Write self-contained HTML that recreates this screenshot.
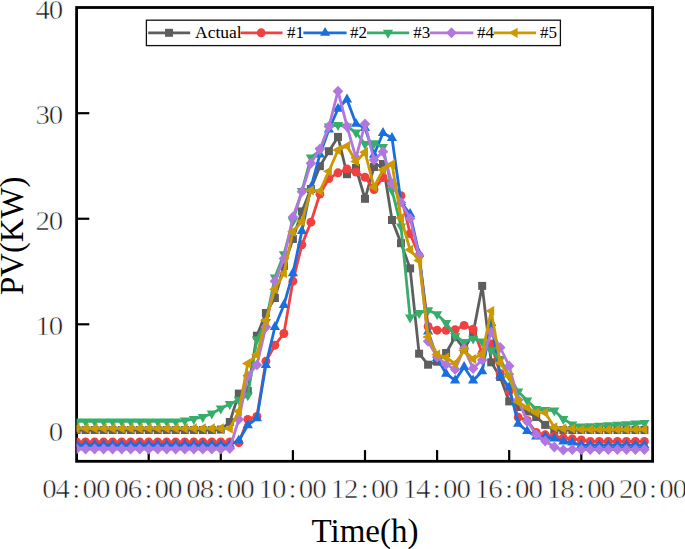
<!DOCTYPE html>
<html><head><meta charset="utf-8"><title>chart</title><style>html,body{margin:0;padding:0;background:#fff}body{width:685px;height:549px;position:relative;overflow:hidden;font-family:"Liberation Serif",serif}</style></head><body>
<svg width="685" height="549" viewBox="0 0 685 549" style="position:absolute;left:0;top:0">
<rect width="685" height="549" fill="#fff"/>
<rect x="76.6" y="7.5" width="576.0" height="453.8" fill="none" stroke="#000" stroke-width="2.8"/>
<line x1="76.6" x2="89.3" y1="113.2" y2="113.2" stroke="#000" stroke-width="2.2"/>
<line x1="76.6" x2="89.3" y1="218.75" y2="218.75" stroke="#000" stroke-width="2.2"/>
<line x1="76.6" x2="89.3" y1="324.3" y2="324.3" stroke="#000" stroke-width="2.2"/>
<line x1="76.6" x2="89.3" y1="429.85" y2="429.85" stroke="#000" stroke-width="2.2"/>
<line x1="148.7" x2="148.7" y1="461.3" y2="450.1" stroke="#000" stroke-width="2.2"/>
<line x1="220.8" x2="220.8" y1="461.3" y2="450.1" stroke="#000" stroke-width="2.2"/>
<line x1="292.9" x2="292.9" y1="461.3" y2="450.1" stroke="#000" stroke-width="2.2"/>
<line x1="365.0" x2="365.0" y1="461.3" y2="450.1" stroke="#000" stroke-width="2.2"/>
<line x1="437.1" x2="437.1" y1="461.3" y2="450.1" stroke="#000" stroke-width="2.2"/>
<line x1="509.2" x2="509.2" y1="461.3" y2="450.1" stroke="#000" stroke-width="2.2"/>
<line x1="581.3" x2="581.3" y1="461.3" y2="450.1" stroke="#000" stroke-width="2.2"/>
<clipPath id="pc"><rect x="76.6" y="7.5" width="576.0" height="453.8"/></clipPath>
<g clip-path="url(#pc)">
<polyline points="76.6,430.0 85.6,430.0 94.6,430.0 103.6,430.0 112.6,430.0 121.7,430.0 130.7,430.0 139.7,430.0 148.7,430.0 157.7,430.0 166.7,430.0 175.7,430.0 184.8,430.0 193.8,430.0 202.8,430.0 211.8,430.0 220.8,429.6 229.8,422.0 238.8,393.6 247.8,391.0 256.9,335.7 265.9,313.0 274.9,298.0 283.9,266.0 292.9,239.0 301.9,211.4 310.9,189.0 319.9,166.2 328.9,151.2 338.0,136.9 347.0,174.2 356.0,168.0 365.0,198.8 374.0,167.0 383.0,164.0 392.0,220.0 401.0,243.2 410.1,268.4 419.1,353.7 428.1,364.7 437.1,361.7 446.1,353.0 455.1,337.0 464.1,349.0 473.1,333.6 482.2,285.9 491.2,362.3 500.2,377.0 509.2,401.4 518.2,407.0 527.2,411.5 536.2,417.0 545.2,424.9 554.3,430.0 563.3,430.0 572.3,430.0 581.3,430.0 590.3,430.0 599.3,430.0 608.3,430.0 617.4,430.0 626.4,430.0 635.4,430.0 644.4,430.0" fill="none" stroke="#5e5e5e" stroke-width="2.8" stroke-linejoin="round"/>
<g><rect x="72.6" y="426.0" width="8.0" height="8.0" fill="#5e5e5e"/><rect x="81.6" y="426.0" width="8.0" height="8.0" fill="#5e5e5e"/><rect x="90.6" y="426.0" width="8.0" height="8.0" fill="#5e5e5e"/><rect x="99.6" y="426.0" width="8.0" height="8.0" fill="#5e5e5e"/><rect x="108.6" y="426.0" width="8.0" height="8.0" fill="#5e5e5e"/><rect x="117.7" y="426.0" width="8.0" height="8.0" fill="#5e5e5e"/><rect x="126.7" y="426.0" width="8.0" height="8.0" fill="#5e5e5e"/><rect x="135.7" y="426.0" width="8.0" height="8.0" fill="#5e5e5e"/><rect x="144.7" y="426.0" width="8.0" height="8.0" fill="#5e5e5e"/><rect x="153.7" y="426.0" width="8.0" height="8.0" fill="#5e5e5e"/><rect x="162.7" y="426.0" width="8.0" height="8.0" fill="#5e5e5e"/><rect x="171.7" y="426.0" width="8.0" height="8.0" fill="#5e5e5e"/><rect x="180.8" y="426.0" width="8.0" height="8.0" fill="#5e5e5e"/><rect x="189.8" y="426.0" width="8.0" height="8.0" fill="#5e5e5e"/><rect x="198.8" y="426.0" width="8.0" height="8.0" fill="#5e5e5e"/><rect x="207.8" y="426.0" width="8.0" height="8.0" fill="#5e5e5e"/><rect x="216.8" y="425.6" width="8.0" height="8.0" fill="#5e5e5e"/><rect x="225.8" y="418.0" width="8.0" height="8.0" fill="#5e5e5e"/><rect x="234.8" y="389.6" width="8.0" height="8.0" fill="#5e5e5e"/><rect x="243.8" y="387.0" width="8.0" height="8.0" fill="#5e5e5e"/><rect x="252.9" y="331.7" width="8.0" height="8.0" fill="#5e5e5e"/><rect x="261.9" y="309.0" width="8.0" height="8.0" fill="#5e5e5e"/><rect x="270.9" y="294.0" width="8.0" height="8.0" fill="#5e5e5e"/><rect x="279.9" y="262.0" width="8.0" height="8.0" fill="#5e5e5e"/><rect x="288.9" y="235.0" width="8.0" height="8.0" fill="#5e5e5e"/><rect x="297.9" y="207.4" width="8.0" height="8.0" fill="#5e5e5e"/><rect x="306.9" y="185.0" width="8.0" height="8.0" fill="#5e5e5e"/><rect x="315.9" y="162.2" width="8.0" height="8.0" fill="#5e5e5e"/><rect x="324.9" y="147.2" width="8.0" height="8.0" fill="#5e5e5e"/><rect x="334.0" y="132.9" width="8.0" height="8.0" fill="#5e5e5e"/><rect x="343.0" y="170.2" width="8.0" height="8.0" fill="#5e5e5e"/><rect x="352.0" y="164.0" width="8.0" height="8.0" fill="#5e5e5e"/><rect x="361.0" y="194.8" width="8.0" height="8.0" fill="#5e5e5e"/><rect x="370.0" y="163.0" width="8.0" height="8.0" fill="#5e5e5e"/><rect x="379.0" y="160.0" width="8.0" height="8.0" fill="#5e5e5e"/><rect x="388.0" y="216.0" width="8.0" height="8.0" fill="#5e5e5e"/><rect x="397.0" y="239.2" width="8.0" height="8.0" fill="#5e5e5e"/><rect x="406.1" y="264.4" width="8.0" height="8.0" fill="#5e5e5e"/><rect x="415.1" y="349.7" width="8.0" height="8.0" fill="#5e5e5e"/><rect x="424.1" y="360.7" width="8.0" height="8.0" fill="#5e5e5e"/><rect x="433.1" y="357.7" width="8.0" height="8.0" fill="#5e5e5e"/><rect x="442.1" y="349.0" width="8.0" height="8.0" fill="#5e5e5e"/><rect x="451.1" y="333.0" width="8.0" height="8.0" fill="#5e5e5e"/><rect x="460.1" y="345.0" width="8.0" height="8.0" fill="#5e5e5e"/><rect x="469.1" y="329.6" width="8.0" height="8.0" fill="#5e5e5e"/><rect x="478.2" y="281.9" width="8.0" height="8.0" fill="#5e5e5e"/><rect x="487.2" y="358.3" width="8.0" height="8.0" fill="#5e5e5e"/><rect x="496.2" y="373.0" width="8.0" height="8.0" fill="#5e5e5e"/><rect x="505.2" y="397.4" width="8.0" height="8.0" fill="#5e5e5e"/><rect x="514.2" y="403.0" width="8.0" height="8.0" fill="#5e5e5e"/><rect x="523.2" y="407.5" width="8.0" height="8.0" fill="#5e5e5e"/><rect x="532.2" y="413.0" width="8.0" height="8.0" fill="#5e5e5e"/><rect x="541.2" y="420.9" width="8.0" height="8.0" fill="#5e5e5e"/><rect x="550.3" y="426.0" width="8.0" height="8.0" fill="#5e5e5e"/><rect x="559.3" y="426.0" width="8.0" height="8.0" fill="#5e5e5e"/><rect x="568.3" y="426.0" width="8.0" height="8.0" fill="#5e5e5e"/><rect x="577.3" y="426.0" width="8.0" height="8.0" fill="#5e5e5e"/><rect x="586.3" y="426.0" width="8.0" height="8.0" fill="#5e5e5e"/><rect x="595.3" y="426.0" width="8.0" height="8.0" fill="#5e5e5e"/><rect x="604.3" y="426.0" width="8.0" height="8.0" fill="#5e5e5e"/><rect x="613.4" y="426.0" width="8.0" height="8.0" fill="#5e5e5e"/><rect x="622.4" y="426.0" width="8.0" height="8.0" fill="#5e5e5e"/><rect x="631.4" y="426.0" width="8.0" height="8.0" fill="#5e5e5e"/><rect x="640.4" y="426.0" width="8.0" height="8.0" fill="#5e5e5e"/></g>
<polyline points="76.6,442.0 85.6,442.0 94.6,442.0 103.6,442.0 112.6,442.0 121.7,442.0 130.7,442.0 139.7,442.0 148.7,442.0 157.7,442.0 166.7,442.0 175.7,442.0 184.8,442.0 193.8,442.0 202.8,442.0 211.8,442.0 220.8,442.0 229.8,442.0 238.8,442.7 247.8,419.4 256.9,416.4 265.9,361.2 274.9,345.2 283.9,333.5 292.9,281.2 301.9,244.8 310.9,222.2 319.9,194.0 328.9,178.6 338.0,172.8 347.0,169.0 356.0,172.0 365.0,177.2 374.0,189.5 383.0,177.5 392.0,184.0 401.0,195.7 410.1,233.7 419.1,255.6 428.1,326.5 437.1,330.2 446.1,330.3 455.1,329.7 464.1,325.4 473.1,329.2 482.2,353.0 491.2,344.0 500.2,373.5 509.2,391.0 518.2,417.3 527.2,420.5 536.2,432.5 545.2,434.8 554.3,436.5 563.3,438.0 572.3,438.8 581.3,440.0 590.3,441.5 599.3,441.5 608.3,441.5 617.4,441.5 626.4,441.5 635.4,441.5 644.4,441.5" fill="none" stroke="#F14040" stroke-width="2.8" stroke-linejoin="round"/>
<g><circle cx="76.6" cy="442.0" r="4.45" fill="#F14040"/><circle cx="85.6" cy="442.0" r="4.45" fill="#F14040"/><circle cx="94.6" cy="442.0" r="4.45" fill="#F14040"/><circle cx="103.6" cy="442.0" r="4.45" fill="#F14040"/><circle cx="112.6" cy="442.0" r="4.45" fill="#F14040"/><circle cx="121.7" cy="442.0" r="4.45" fill="#F14040"/><circle cx="130.7" cy="442.0" r="4.45" fill="#F14040"/><circle cx="139.7" cy="442.0" r="4.45" fill="#F14040"/><circle cx="148.7" cy="442.0" r="4.45" fill="#F14040"/><circle cx="157.7" cy="442.0" r="4.45" fill="#F14040"/><circle cx="166.7" cy="442.0" r="4.45" fill="#F14040"/><circle cx="175.7" cy="442.0" r="4.45" fill="#F14040"/><circle cx="184.8" cy="442.0" r="4.45" fill="#F14040"/><circle cx="193.8" cy="442.0" r="4.45" fill="#F14040"/><circle cx="202.8" cy="442.0" r="4.45" fill="#F14040"/><circle cx="211.8" cy="442.0" r="4.45" fill="#F14040"/><circle cx="220.8" cy="442.0" r="4.45" fill="#F14040"/><circle cx="229.8" cy="442.0" r="4.45" fill="#F14040"/><circle cx="238.8" cy="442.7" r="4.45" fill="#F14040"/><circle cx="247.8" cy="419.4" r="4.45" fill="#F14040"/><circle cx="256.9" cy="416.4" r="4.45" fill="#F14040"/><circle cx="265.9" cy="361.2" r="4.45" fill="#F14040"/><circle cx="274.9" cy="345.2" r="4.45" fill="#F14040"/><circle cx="283.9" cy="333.5" r="4.45" fill="#F14040"/><circle cx="292.9" cy="281.2" r="4.45" fill="#F14040"/><circle cx="301.9" cy="244.8" r="4.45" fill="#F14040"/><circle cx="310.9" cy="222.2" r="4.45" fill="#F14040"/><circle cx="319.9" cy="194.0" r="4.45" fill="#F14040"/><circle cx="328.9" cy="178.6" r="4.45" fill="#F14040"/><circle cx="338.0" cy="172.8" r="4.45" fill="#F14040"/><circle cx="347.0" cy="169.0" r="4.45" fill="#F14040"/><circle cx="356.0" cy="172.0" r="4.45" fill="#F14040"/><circle cx="365.0" cy="177.2" r="4.45" fill="#F14040"/><circle cx="374.0" cy="189.5" r="4.45" fill="#F14040"/><circle cx="383.0" cy="177.5" r="4.45" fill="#F14040"/><circle cx="392.0" cy="184.0" r="4.45" fill="#F14040"/><circle cx="401.0" cy="195.7" r="4.45" fill="#F14040"/><circle cx="410.1" cy="233.7" r="4.45" fill="#F14040"/><circle cx="419.1" cy="255.6" r="4.45" fill="#F14040"/><circle cx="428.1" cy="326.5" r="4.45" fill="#F14040"/><circle cx="437.1" cy="330.2" r="4.45" fill="#F14040"/><circle cx="446.1" cy="330.3" r="4.45" fill="#F14040"/><circle cx="455.1" cy="329.7" r="4.45" fill="#F14040"/><circle cx="464.1" cy="325.4" r="4.45" fill="#F14040"/><circle cx="473.1" cy="329.2" r="4.45" fill="#F14040"/><circle cx="482.2" cy="353.0" r="4.45" fill="#F14040"/><circle cx="491.2" cy="344.0" r="4.45" fill="#F14040"/><circle cx="500.2" cy="373.5" r="4.45" fill="#F14040"/><circle cx="509.2" cy="391.0" r="4.45" fill="#F14040"/><circle cx="518.2" cy="417.3" r="4.45" fill="#F14040"/><circle cx="527.2" cy="420.5" r="4.45" fill="#F14040"/><circle cx="536.2" cy="432.5" r="4.45" fill="#F14040"/><circle cx="545.2" cy="434.8" r="4.45" fill="#F14040"/><circle cx="554.3" cy="436.5" r="4.45" fill="#F14040"/><circle cx="563.3" cy="438.0" r="4.45" fill="#F14040"/><circle cx="572.3" cy="438.8" r="4.45" fill="#F14040"/><circle cx="581.3" cy="440.0" r="4.45" fill="#F14040"/><circle cx="590.3" cy="441.5" r="4.45" fill="#F14040"/><circle cx="599.3" cy="441.5" r="4.45" fill="#F14040"/><circle cx="608.3" cy="441.5" r="4.45" fill="#F14040"/><circle cx="617.4" cy="441.5" r="4.45" fill="#F14040"/><circle cx="626.4" cy="441.5" r="4.45" fill="#F14040"/><circle cx="635.4" cy="441.5" r="4.45" fill="#F14040"/><circle cx="644.4" cy="441.5" r="4.45" fill="#F14040"/></g>
<polyline points="76.6,444.6 85.6,444.6 94.6,444.6 103.6,444.6 112.6,444.6 121.7,444.6 130.7,444.6 139.7,444.6 148.7,444.6 157.7,444.6 166.7,444.6 175.7,444.6 184.8,444.6 193.8,444.6 202.8,444.6 211.8,444.6 220.8,444.6 229.8,444.6 238.8,440.5 247.8,425.2 256.9,418.2 265.9,364.9 274.9,327.0 283.9,305.0 292.9,273.2 301.9,231.0 310.9,187.4 319.9,154.5 328.9,129.6 338.0,108.7 347.0,99.4 356.0,123.8 365.0,128.0 374.0,154.7 383.0,133.0 392.0,138.0 401.0,202.0 410.1,214.0 419.1,254.0 428.1,331.6 437.1,358.0 446.1,373.7 455.1,380.4 464.1,366.9 473.1,380.5 482.2,371.3 491.2,323.0 500.2,375.5 509.2,387.3 518.2,423.8 527.2,431.0 536.2,436.5 545.2,437.0 554.3,438.5 563.3,441.5 572.3,442.5 581.3,445.2 590.3,445.2 599.3,445.2 608.3,445.2 617.4,445.2 626.4,445.2 635.4,445.2 644.4,445.2" fill="none" stroke="#1A6FDF" stroke-width="2.8" stroke-linejoin="round"/>
<g><path d="M71.5 447.6L81.7 447.6L76.6 438.7Z" fill="#1A6FDF"/><path d="M80.5 447.6L90.7 447.6L85.6 438.7Z" fill="#1A6FDF"/><path d="M89.5 447.6L99.7 447.6L94.6 438.7Z" fill="#1A6FDF"/><path d="M98.5 447.6L108.7 447.6L103.6 438.7Z" fill="#1A6FDF"/><path d="M107.5 447.6L117.7 447.6L112.6 438.7Z" fill="#1A6FDF"/><path d="M116.6 447.6L126.8 447.6L121.7 438.7Z" fill="#1A6FDF"/><path d="M125.6 447.6L135.8 447.6L130.7 438.7Z" fill="#1A6FDF"/><path d="M134.6 447.6L144.8 447.6L139.7 438.7Z" fill="#1A6FDF"/><path d="M143.6 447.6L153.8 447.6L148.7 438.7Z" fill="#1A6FDF"/><path d="M152.6 447.6L162.8 447.6L157.7 438.7Z" fill="#1A6FDF"/><path d="M161.6 447.6L171.8 447.6L166.7 438.7Z" fill="#1A6FDF"/><path d="M170.6 447.6L180.8 447.6L175.7 438.7Z" fill="#1A6FDF"/><path d="M179.7 447.6L189.8 447.6L184.8 438.7Z" fill="#1A6FDF"/><path d="M188.7 447.6L198.9 447.6L193.8 438.7Z" fill="#1A6FDF"/><path d="M197.7 447.6L207.9 447.6L202.8 438.7Z" fill="#1A6FDF"/><path d="M206.7 447.6L216.9 447.6L211.8 438.7Z" fill="#1A6FDF"/><path d="M215.7 447.6L225.9 447.6L220.8 438.7Z" fill="#1A6FDF"/><path d="M224.7 447.6L234.9 447.6L229.8 438.7Z" fill="#1A6FDF"/><path d="M233.7 443.5L243.9 443.5L238.8 434.6Z" fill="#1A6FDF"/><path d="M242.7 428.2L252.9 428.2L247.8 419.3Z" fill="#1A6FDF"/><path d="M251.8 421.2L262.0 421.2L256.9 412.3Z" fill="#1A6FDF"/><path d="M260.8 367.9L271.0 367.9L265.9 359.0Z" fill="#1A6FDF"/><path d="M269.8 330.0L280.0 330.0L274.9 321.1Z" fill="#1A6FDF"/><path d="M278.8 308.0L289.0 308.0L283.9 299.1Z" fill="#1A6FDF"/><path d="M287.8 276.2L298.0 276.2L292.9 267.3Z" fill="#1A6FDF"/><path d="M296.8 234.0L307.0 234.0L301.9 225.1Z" fill="#1A6FDF"/><path d="M305.8 190.4L316.0 190.4L310.9 181.5Z" fill="#1A6FDF"/><path d="M314.8 157.5L325.0 157.5L319.9 148.6Z" fill="#1A6FDF"/><path d="M323.8 132.6L334.0 132.6L328.9 123.7Z" fill="#1A6FDF"/><path d="M332.9 111.7L343.1 111.7L338.0 102.8Z" fill="#1A6FDF"/><path d="M341.9 102.4L352.1 102.4L347.0 93.5Z" fill="#1A6FDF"/><path d="M350.9 126.8L361.1 126.8L356.0 117.9Z" fill="#1A6FDF"/><path d="M359.9 131.0L370.1 131.0L365.0 122.1Z" fill="#1A6FDF"/><path d="M368.9 157.7L379.1 157.7L374.0 148.8Z" fill="#1A6FDF"/><path d="M377.9 136.0L388.1 136.0L383.0 127.1Z" fill="#1A6FDF"/><path d="M386.9 141.0L397.1 141.0L392.0 132.1Z" fill="#1A6FDF"/><path d="M395.9 205.0L406.1 205.0L401.0 196.1Z" fill="#1A6FDF"/><path d="M405.0 217.0L415.2 217.0L410.1 208.1Z" fill="#1A6FDF"/><path d="M414.0 257.0L424.2 257.0L419.1 248.1Z" fill="#1A6FDF"/><path d="M423.0 334.6L433.2 334.6L428.1 325.7Z" fill="#1A6FDF"/><path d="M432.0 361.0L442.2 361.0L437.1 352.1Z" fill="#1A6FDF"/><path d="M441.0 376.7L451.2 376.7L446.1 367.8Z" fill="#1A6FDF"/><path d="M450.0 383.4L460.2 383.4L455.1 374.5Z" fill="#1A6FDF"/><path d="M459.0 369.9L469.2 369.9L464.1 361.0Z" fill="#1A6FDF"/><path d="M468.0 383.5L478.2 383.5L473.1 374.6Z" fill="#1A6FDF"/><path d="M477.1 374.3L487.3 374.3L482.2 365.4Z" fill="#1A6FDF"/><path d="M486.1 326.0L496.3 326.0L491.2 317.1Z" fill="#1A6FDF"/><path d="M495.1 378.5L505.3 378.5L500.2 369.6Z" fill="#1A6FDF"/><path d="M504.1 390.3L514.3 390.3L509.2 381.4Z" fill="#1A6FDF"/><path d="M513.1 426.8L523.3 426.8L518.2 417.9Z" fill="#1A6FDF"/><path d="M522.1 434.0L532.3 434.0L527.2 425.1Z" fill="#1A6FDF"/><path d="M531.1 439.5L541.3 439.5L536.2 430.6Z" fill="#1A6FDF"/><path d="M540.1 440.0L550.4 440.0L545.2 431.1Z" fill="#1A6FDF"/><path d="M549.2 441.5L559.4 441.5L554.3 432.6Z" fill="#1A6FDF"/><path d="M558.2 444.5L568.4 444.5L563.3 435.6Z" fill="#1A6FDF"/><path d="M567.2 445.5L577.4 445.5L572.3 436.6Z" fill="#1A6FDF"/><path d="M576.2 448.2L586.4 448.2L581.3 439.3Z" fill="#1A6FDF"/><path d="M585.2 448.2L595.4 448.2L590.3 439.3Z" fill="#1A6FDF"/><path d="M594.2 448.2L604.4 448.2L599.3 439.3Z" fill="#1A6FDF"/><path d="M603.2 448.2L613.4 448.2L608.3 439.3Z" fill="#1A6FDF"/><path d="M612.2 448.2L622.5 448.2L617.4 439.3Z" fill="#1A6FDF"/><path d="M621.3 448.2L631.5 448.2L626.4 439.3Z" fill="#1A6FDF"/><path d="M630.3 448.2L640.5 448.2L635.4 439.3Z" fill="#1A6FDF"/><path d="M639.3 448.2L649.5 448.2L644.4 439.3Z" fill="#1A6FDF"/></g>
<polyline points="76.6,421.4 85.6,421.4 94.6,421.4 103.6,421.4 112.6,421.4 121.7,421.4 130.7,421.4 139.7,421.4 148.7,421.4 157.7,421.4 166.7,421.4 175.7,421.4 184.8,420.6 193.8,419.0 202.8,417.0 211.8,413.6 220.8,408.5 229.8,404.0 238.8,399.8 247.8,395.4 256.9,339.4 265.9,322.0 274.9,277.6 283.9,254.3 292.9,221.0 301.9,191.0 310.9,157.5 319.9,150.5 328.9,126.5 338.0,125.0 347.0,126.5 356.0,132.5 365.0,144.0 374.0,143.3 383.0,147.0 392.0,190.3 401.0,226.4 410.1,317.5 419.1,313.1 428.1,310.2 437.1,314.2 446.1,323.0 455.1,336.0 464.1,342.0 473.1,338.7 482.2,341.5 491.2,350.7 500.2,359.0 509.2,376.3 518.2,391.6 527.2,400.6 536.2,409.0 545.2,410.0 554.3,410.5 563.3,419.0 572.3,424.4 581.3,426.6 590.3,426.2 599.3,425.8 608.3,425.3 617.4,424.8 626.4,424.3 635.4,423.6 644.4,422.9" fill="none" stroke="#37AD6B" stroke-width="2.8" stroke-linejoin="round"/>
<g><path d="M71.5 418.4L81.7 418.4L76.6 427.3Z" fill="#37AD6B"/><path d="M80.5 418.4L90.7 418.4L85.6 427.3Z" fill="#37AD6B"/><path d="M89.5 418.4L99.7 418.4L94.6 427.3Z" fill="#37AD6B"/><path d="M98.5 418.4L108.7 418.4L103.6 427.3Z" fill="#37AD6B"/><path d="M107.5 418.4L117.7 418.4L112.6 427.3Z" fill="#37AD6B"/><path d="M116.6 418.4L126.8 418.4L121.7 427.3Z" fill="#37AD6B"/><path d="M125.6 418.4L135.8 418.4L130.7 427.3Z" fill="#37AD6B"/><path d="M134.6 418.4L144.8 418.4L139.7 427.3Z" fill="#37AD6B"/><path d="M143.6 418.4L153.8 418.4L148.7 427.3Z" fill="#37AD6B"/><path d="M152.6 418.4L162.8 418.4L157.7 427.3Z" fill="#37AD6B"/><path d="M161.6 418.4L171.8 418.4L166.7 427.3Z" fill="#37AD6B"/><path d="M170.6 418.4L180.8 418.4L175.7 427.3Z" fill="#37AD6B"/><path d="M179.7 417.6L189.8 417.6L184.8 426.5Z" fill="#37AD6B"/><path d="M188.7 416.0L198.9 416.0L193.8 424.9Z" fill="#37AD6B"/><path d="M197.7 414.0L207.9 414.0L202.8 422.9Z" fill="#37AD6B"/><path d="M206.7 410.6L216.9 410.6L211.8 419.5Z" fill="#37AD6B"/><path d="M215.7 405.5L225.9 405.5L220.8 414.4Z" fill="#37AD6B"/><path d="M224.7 401.0L234.9 401.0L229.8 409.9Z" fill="#37AD6B"/><path d="M233.7 396.8L243.9 396.8L238.8 405.7Z" fill="#37AD6B"/><path d="M242.7 392.4L252.9 392.4L247.8 401.3Z" fill="#37AD6B"/><path d="M251.8 336.4L262.0 336.4L256.9 345.3Z" fill="#37AD6B"/><path d="M260.8 319.0L271.0 319.0L265.9 327.9Z" fill="#37AD6B"/><path d="M269.8 274.6L280.0 274.6L274.9 283.5Z" fill="#37AD6B"/><path d="M278.8 251.3L289.0 251.3L283.9 260.2Z" fill="#37AD6B"/><path d="M287.8 218.0L298.0 218.0L292.9 226.9Z" fill="#37AD6B"/><path d="M296.8 188.0L307.0 188.0L301.9 196.9Z" fill="#37AD6B"/><path d="M305.8 154.5L316.0 154.5L310.9 163.4Z" fill="#37AD6B"/><path d="M314.8 147.5L325.0 147.5L319.9 156.4Z" fill="#37AD6B"/><path d="M323.8 123.5L334.0 123.5L328.9 132.4Z" fill="#37AD6B"/><path d="M332.9 122.0L343.1 122.0L338.0 130.9Z" fill="#37AD6B"/><path d="M341.9 123.5L352.1 123.5L347.0 132.4Z" fill="#37AD6B"/><path d="M350.9 129.5L361.1 129.5L356.0 138.4Z" fill="#37AD6B"/><path d="M359.9 141.0L370.1 141.0L365.0 149.9Z" fill="#37AD6B"/><path d="M368.9 140.3L379.1 140.3L374.0 149.2Z" fill="#37AD6B"/><path d="M377.9 144.0L388.1 144.0L383.0 152.9Z" fill="#37AD6B"/><path d="M386.9 187.3L397.1 187.3L392.0 196.2Z" fill="#37AD6B"/><path d="M395.9 223.4L406.1 223.4L401.0 232.3Z" fill="#37AD6B"/><path d="M405.0 314.5L415.2 314.5L410.1 323.4Z" fill="#37AD6B"/><path d="M414.0 310.1L424.2 310.1L419.1 319.0Z" fill="#37AD6B"/><path d="M423.0 307.2L433.2 307.2L428.1 316.1Z" fill="#37AD6B"/><path d="M432.0 311.2L442.2 311.2L437.1 320.1Z" fill="#37AD6B"/><path d="M441.0 320.0L451.2 320.0L446.1 328.9Z" fill="#37AD6B"/><path d="M450.0 333.0L460.2 333.0L455.1 341.9Z" fill="#37AD6B"/><path d="M459.0 339.0L469.2 339.0L464.1 347.9Z" fill="#37AD6B"/><path d="M468.0 335.7L478.2 335.7L473.1 344.6Z" fill="#37AD6B"/><path d="M477.1 338.5L487.3 338.5L482.2 347.4Z" fill="#37AD6B"/><path d="M486.1 347.7L496.3 347.7L491.2 356.6Z" fill="#37AD6B"/><path d="M495.1 356.0L505.3 356.0L500.2 364.9Z" fill="#37AD6B"/><path d="M504.1 373.3L514.3 373.3L509.2 382.2Z" fill="#37AD6B"/><path d="M513.1 388.6L523.3 388.6L518.2 397.5Z" fill="#37AD6B"/><path d="M522.1 397.6L532.3 397.6L527.2 406.5Z" fill="#37AD6B"/><path d="M531.1 406.0L541.3 406.0L536.2 414.9Z" fill="#37AD6B"/><path d="M540.1 407.0L550.4 407.0L545.2 415.9Z" fill="#37AD6B"/><path d="M549.2 407.5L559.4 407.5L554.3 416.4Z" fill="#37AD6B"/><path d="M558.2 416.0L568.4 416.0L563.3 424.9Z" fill="#37AD6B"/><path d="M567.2 421.4L577.4 421.4L572.3 430.3Z" fill="#37AD6B"/><path d="M576.2 423.6L586.4 423.6L581.3 432.5Z" fill="#37AD6B"/><path d="M585.2 423.2L595.4 423.2L590.3 432.1Z" fill="#37AD6B"/><path d="M594.2 422.8L604.4 422.8L599.3 431.7Z" fill="#37AD6B"/><path d="M603.2 422.3L613.4 422.3L608.3 431.2Z" fill="#37AD6B"/><path d="M612.2 421.8L622.5 421.8L617.4 430.7Z" fill="#37AD6B"/><path d="M621.3 421.3L631.5 421.3L626.4 430.2Z" fill="#37AD6B"/><path d="M630.3 420.6L640.5 420.6L635.4 429.5Z" fill="#37AD6B"/><path d="M639.3 419.9L649.5 419.9L644.4 428.8Z" fill="#37AD6B"/></g>
<polyline points="76.6,449.0 85.6,449.0 94.6,449.0 103.6,449.0 112.6,449.0 121.7,449.0 130.7,449.0 139.7,449.0 148.7,449.0 157.7,449.0 166.7,449.0 175.7,449.0 184.8,449.0 193.8,449.0 202.8,449.0 211.8,449.0 220.8,449.0 229.8,448.5 238.8,419.4 247.8,375.8 256.9,364.9 265.9,327.0 274.9,281.2 283.9,258.6 292.9,217.0 301.9,191.7 310.9,163.3 319.9,149.0 328.9,126.6 338.0,91.2 347.0,126.4 356.0,157.8 365.0,124.0 374.0,160.0 383.0,151.7 392.0,183.5 401.0,202.4 410.1,218.4 419.1,255.6 428.1,341.3 437.1,357.0 446.1,364.4 455.1,369.4 464.1,348.5 473.1,368.5 482.2,360.0 491.2,332.0 500.2,347.5 509.2,366.0 518.2,400.0 527.2,421.3 536.2,434.6 545.2,441.0 554.3,447.0 563.3,450.0 572.3,449.5 581.3,449.5 590.3,449.5 599.3,449.5 608.3,449.5 617.4,449.5 626.4,449.5 635.4,449.5 644.4,449.5" fill="none" stroke="#B177DE" stroke-width="2.8" stroke-linejoin="round"/>
<g><path d="M71.3 449.0L76.6 443.6L81.9 449.0L76.6 454.4Z" fill="#B177DE"/><path d="M80.3 449.0L85.6 443.6L90.9 449.0L85.6 454.4Z" fill="#B177DE"/><path d="M89.3 449.0L94.6 443.6L99.9 449.0L94.6 454.4Z" fill="#B177DE"/><path d="M98.3 449.0L103.6 443.6L108.9 449.0L103.6 454.4Z" fill="#B177DE"/><path d="M107.3 449.0L112.6 443.6L117.9 449.0L112.6 454.4Z" fill="#B177DE"/><path d="M116.4 449.0L121.7 443.6L127.0 449.0L121.7 454.4Z" fill="#B177DE"/><path d="M125.4 449.0L130.7 443.6L136.0 449.0L130.7 454.4Z" fill="#B177DE"/><path d="M134.4 449.0L139.7 443.6L145.0 449.0L139.7 454.4Z" fill="#B177DE"/><path d="M143.4 449.0L148.7 443.6L154.0 449.0L148.7 454.4Z" fill="#B177DE"/><path d="M152.4 449.0L157.7 443.6L163.0 449.0L157.7 454.4Z" fill="#B177DE"/><path d="M161.4 449.0L166.7 443.6L172.0 449.0L166.7 454.4Z" fill="#B177DE"/><path d="M170.4 449.0L175.7 443.6L181.0 449.0L175.7 454.4Z" fill="#B177DE"/><path d="M179.4 449.0L184.8 443.6L190.1 449.0L184.8 454.4Z" fill="#B177DE"/><path d="M188.5 449.0L193.8 443.6L199.1 449.0L193.8 454.4Z" fill="#B177DE"/><path d="M197.5 449.0L202.8 443.6L208.1 449.0L202.8 454.4Z" fill="#B177DE"/><path d="M206.5 449.0L211.8 443.6L217.1 449.0L211.8 454.4Z" fill="#B177DE"/><path d="M215.5 449.0L220.8 443.6L226.1 449.0L220.8 454.4Z" fill="#B177DE"/><path d="M224.5 448.5L229.8 443.1L235.1 448.5L229.8 453.9Z" fill="#B177DE"/><path d="M233.5 419.4L238.8 413.9L244.1 419.4L238.8 424.8Z" fill="#B177DE"/><path d="M242.5 375.8L247.8 370.4L253.1 375.8L247.8 381.2Z" fill="#B177DE"/><path d="M251.6 364.9L256.9 359.4L262.2 364.9L256.9 370.3Z" fill="#B177DE"/><path d="M260.6 327.0L265.9 321.6L271.2 327.0L265.9 332.4Z" fill="#B177DE"/><path d="M269.6 281.2L274.9 275.8L280.2 281.2L274.9 286.6Z" fill="#B177DE"/><path d="M278.6 258.6L283.9 253.2L289.2 258.6L283.9 264.1Z" fill="#B177DE"/><path d="M287.6 217.0L292.9 211.6L298.2 217.0L292.9 222.4Z" fill="#B177DE"/><path d="M296.6 191.7L301.9 186.2L307.2 191.7L301.9 197.1Z" fill="#B177DE"/><path d="M305.6 163.3L310.9 157.9L316.2 163.3L310.9 168.8Z" fill="#B177DE"/><path d="M314.6 149.0L319.9 143.6L325.2 149.0L319.9 154.4Z" fill="#B177DE"/><path d="M323.6 126.6L328.9 121.1L334.2 126.6L328.9 132.0Z" fill="#B177DE"/><path d="M332.7 91.2L338.0 85.8L343.3 91.2L338.0 96.7Z" fill="#B177DE"/><path d="M341.7 126.4L347.0 121.0L352.3 126.4L347.0 131.8Z" fill="#B177DE"/><path d="M350.7 157.8L356.0 152.4L361.3 157.8L356.0 163.2Z" fill="#B177DE"/><path d="M359.7 124.0L365.0 118.5L370.3 124.0L365.0 129.4Z" fill="#B177DE"/><path d="M368.7 160.0L374.0 154.6L379.3 160.0L374.0 165.4Z" fill="#B177DE"/><path d="M377.7 151.7L383.0 146.2L388.3 151.7L383.0 157.1Z" fill="#B177DE"/><path d="M386.7 183.5L392.0 178.1L397.3 183.5L392.0 188.9Z" fill="#B177DE"/><path d="M395.7 202.4L401.0 197.0L406.3 202.4L401.0 207.8Z" fill="#B177DE"/><path d="M404.8 218.4L410.1 213.0L415.4 218.4L410.1 223.8Z" fill="#B177DE"/><path d="M413.8 255.6L419.1 250.2L424.4 255.6L419.1 261.1Z" fill="#B177DE"/><path d="M422.8 341.3L428.1 335.9L433.4 341.3L428.1 346.8Z" fill="#B177DE"/><path d="M431.8 357.0L437.1 351.6L442.4 357.0L437.1 362.4Z" fill="#B177DE"/><path d="M440.8 364.4L446.1 358.9L451.4 364.4L446.1 369.8Z" fill="#B177DE"/><path d="M449.8 369.4L455.1 363.9L460.4 369.4L455.1 374.8Z" fill="#B177DE"/><path d="M458.8 348.5L464.1 343.1L469.4 348.5L464.1 353.9Z" fill="#B177DE"/><path d="M467.8 368.5L473.1 363.1L478.4 368.5L473.1 373.9Z" fill="#B177DE"/><path d="M476.9 360.0L482.2 354.6L487.5 360.0L482.2 365.4Z" fill="#B177DE"/><path d="M485.9 332.0L491.2 326.6L496.5 332.0L491.2 337.4Z" fill="#B177DE"/><path d="M494.9 347.5L500.2 342.1L505.5 347.5L500.2 352.9Z" fill="#B177DE"/><path d="M503.9 366.0L509.2 360.6L514.5 366.0L509.2 371.4Z" fill="#B177DE"/><path d="M512.9 400.0L518.2 394.6L523.5 400.0L518.2 405.4Z" fill="#B177DE"/><path d="M521.9 421.3L527.2 415.9L532.5 421.3L527.2 426.8Z" fill="#B177DE"/><path d="M530.9 434.6L536.2 429.2L541.5 434.6L536.2 440.1Z" fill="#B177DE"/><path d="M540.0 441.0L545.2 435.6L550.5 441.0L545.2 446.4Z" fill="#B177DE"/><path d="M549.0 447.0L554.3 441.6L559.6 447.0L554.3 452.4Z" fill="#B177DE"/><path d="M558.0 450.0L563.3 444.6L568.6 450.0L563.3 455.4Z" fill="#B177DE"/><path d="M567.0 449.5L572.3 444.1L577.6 449.5L572.3 454.9Z" fill="#B177DE"/><path d="M576.0 449.5L581.3 444.1L586.6 449.5L581.3 454.9Z" fill="#B177DE"/><path d="M585.0 449.5L590.3 444.1L595.6 449.5L590.3 454.9Z" fill="#B177DE"/><path d="M594.0 449.5L599.3 444.1L604.6 449.5L599.3 454.9Z" fill="#B177DE"/><path d="M603.0 449.5L608.3 444.1L613.6 449.5L608.3 454.9Z" fill="#B177DE"/><path d="M612.1 449.5L617.4 444.1L622.6 449.5L617.4 454.9Z" fill="#B177DE"/><path d="M621.1 449.5L626.4 444.1L631.7 449.5L626.4 454.9Z" fill="#B177DE"/><path d="M630.1 449.5L635.4 444.1L640.7 449.5L635.4 454.9Z" fill="#B177DE"/><path d="M639.1 449.5L644.4 444.1L649.7 449.5L644.4 454.9Z" fill="#B177DE"/></g>
<polyline points="76.6,428.4 85.6,428.4 94.6,428.4 103.6,428.4 112.6,428.4 121.7,428.4 130.7,428.4 139.7,428.4 148.7,428.4 157.7,428.4 166.7,428.4 175.7,428.4 184.8,428.4 193.8,428.4 202.8,428.4 211.8,428.4 220.8,428.4 229.8,428.4 238.8,411.3 247.8,363.4 256.9,354.7 265.9,320.4 274.9,289.2 283.9,273.2 292.9,231.7 301.9,221.5 310.9,190.3 319.9,191.0 328.9,171.3 338.0,150.1 347.0,146.0 356.0,161.5 365.0,152.2 374.0,187.0 383.0,169.8 392.0,164.3 401.0,218.0 410.1,249.8 419.1,260.4 428.1,337.0 437.1,354.5 446.1,357.5 455.1,363.6 464.1,350.4 473.1,359.0 482.2,353.8 491.2,311.0 500.2,363.0 509.2,376.2 518.2,401.8 527.2,407.6 536.2,412.7 545.2,412.7 554.3,427.3 563.3,428.7 572.3,428.7 581.3,429.5 590.3,429.5 599.3,429.5 608.3,429.5 617.4,429.5 626.4,429.5 635.4,429.5 644.4,429.5" fill="none" stroke="#CC9900" stroke-width="2.8" stroke-linejoin="round"/>
<g><path d="M79.6 423.3L79.6 433.5L70.7 428.4Z" fill="#CC9900"/><path d="M88.6 423.3L88.6 433.5L79.7 428.4Z" fill="#CC9900"/><path d="M97.6 423.3L97.6 433.5L88.7 428.4Z" fill="#CC9900"/><path d="M106.6 423.3L106.6 433.5L97.7 428.4Z" fill="#CC9900"/><path d="M115.6 423.3L115.6 433.5L106.7 428.4Z" fill="#CC9900"/><path d="M124.7 423.3L124.7 433.5L115.8 428.4Z" fill="#CC9900"/><path d="M133.7 423.3L133.7 433.5L124.8 428.4Z" fill="#CC9900"/><path d="M142.7 423.3L142.7 433.5L133.8 428.4Z" fill="#CC9900"/><path d="M151.7 423.3L151.7 433.5L142.8 428.4Z" fill="#CC9900"/><path d="M160.7 423.3L160.7 433.5L151.8 428.4Z" fill="#CC9900"/><path d="M169.7 423.3L169.7 433.5L160.8 428.4Z" fill="#CC9900"/><path d="M178.7 423.3L178.7 433.5L169.8 428.4Z" fill="#CC9900"/><path d="M187.8 423.3L187.8 433.5L178.8 428.4Z" fill="#CC9900"/><path d="M196.8 423.3L196.8 433.5L187.9 428.4Z" fill="#CC9900"/><path d="M205.8 423.3L205.8 433.5L196.9 428.4Z" fill="#CC9900"/><path d="M214.8 423.3L214.8 433.5L205.9 428.4Z" fill="#CC9900"/><path d="M223.8 423.3L223.8 433.5L214.9 428.4Z" fill="#CC9900"/><path d="M232.8 423.3L232.8 433.5L223.9 428.4Z" fill="#CC9900"/><path d="M241.8 406.2L241.8 416.4L232.9 411.3Z" fill="#CC9900"/><path d="M250.8 358.3L250.8 368.5L241.9 363.4Z" fill="#CC9900"/><path d="M259.9 349.6L259.9 359.8L251.0 354.7Z" fill="#CC9900"/><path d="M268.9 315.3L268.9 325.5L260.0 320.4Z" fill="#CC9900"/><path d="M277.9 284.1L277.9 294.3L269.0 289.2Z" fill="#CC9900"/><path d="M286.9 268.1L286.9 278.3L278.0 273.2Z" fill="#CC9900"/><path d="M295.9 226.6L295.9 236.8L287.0 231.7Z" fill="#CC9900"/><path d="M304.9 216.4L304.9 226.6L296.0 221.5Z" fill="#CC9900"/><path d="M313.9 185.2L313.9 195.4L305.0 190.3Z" fill="#CC9900"/><path d="M322.9 185.9L322.9 196.1L314.0 191.0Z" fill="#CC9900"/><path d="M331.9 166.2L331.9 176.4L323.0 171.3Z" fill="#CC9900"/><path d="M341.0 145.0L341.0 155.2L332.1 150.1Z" fill="#CC9900"/><path d="M350.0 140.9L350.0 151.1L341.1 146.0Z" fill="#CC9900"/><path d="M359.0 156.4L359.0 166.6L350.1 161.5Z" fill="#CC9900"/><path d="M368.0 147.1L368.0 157.3L359.1 152.2Z" fill="#CC9900"/><path d="M377.0 181.9L377.0 192.1L368.1 187.0Z" fill="#CC9900"/><path d="M386.0 164.7L386.0 174.9L377.1 169.8Z" fill="#CC9900"/><path d="M395.0 159.2L395.0 169.4L386.1 164.3Z" fill="#CC9900"/><path d="M404.0 212.9L404.0 223.1L395.1 218.0Z" fill="#CC9900"/><path d="M413.1 244.7L413.1 254.9L404.2 249.8Z" fill="#CC9900"/><path d="M422.1 255.3L422.1 265.5L413.2 260.4Z" fill="#CC9900"/><path d="M431.1 331.9L431.1 342.1L422.2 337.0Z" fill="#CC9900"/><path d="M440.1 349.4L440.1 359.6L431.2 354.5Z" fill="#CC9900"/><path d="M449.1 352.4L449.1 362.6L440.2 357.5Z" fill="#CC9900"/><path d="M458.1 358.5L458.1 368.7L449.2 363.6Z" fill="#CC9900"/><path d="M467.1 345.3L467.1 355.5L458.2 350.4Z" fill="#CC9900"/><path d="M476.1 353.9L476.1 364.1L467.2 359.0Z" fill="#CC9900"/><path d="M485.2 348.7L485.2 358.9L476.3 353.8Z" fill="#CC9900"/><path d="M494.2 305.9L494.2 316.1L485.3 311.0Z" fill="#CC9900"/><path d="M503.2 357.9L503.2 368.1L494.3 363.0Z" fill="#CC9900"/><path d="M512.2 371.1L512.2 381.3L503.3 376.2Z" fill="#CC9900"/><path d="M521.2 396.7L521.2 406.9L512.3 401.8Z" fill="#CC9900"/><path d="M530.2 402.5L530.2 412.7L521.3 407.6Z" fill="#CC9900"/><path d="M539.2 407.6L539.2 417.8L530.3 412.7Z" fill="#CC9900"/><path d="M548.2 407.6L548.2 417.8L539.4 412.7Z" fill="#CC9900"/><path d="M557.3 422.2L557.3 432.4L548.4 427.3Z" fill="#CC9900"/><path d="M566.3 423.6L566.3 433.8L557.4 428.7Z" fill="#CC9900"/><path d="M575.3 423.6L575.3 433.8L566.4 428.7Z" fill="#CC9900"/><path d="M584.3 424.4L584.3 434.6L575.4 429.5Z" fill="#CC9900"/><path d="M593.3 424.4L593.3 434.6L584.4 429.5Z" fill="#CC9900"/><path d="M602.3 424.4L602.3 434.6L593.4 429.5Z" fill="#CC9900"/><path d="M611.3 424.4L611.3 434.6L602.4 429.5Z" fill="#CC9900"/><path d="M620.4 424.4L620.4 434.6L611.5 429.5Z" fill="#CC9900"/><path d="M629.4 424.4L629.4 434.6L620.5 429.5Z" fill="#CC9900"/><path d="M638.4 424.4L638.4 434.6L629.5 429.5Z" fill="#CC9900"/><path d="M647.4 424.4L647.4 434.6L638.5 429.5Z" fill="#CC9900"/></g>
</g>
<g font-family="Liberation Serif, serif" font-size="27.3" fill="#1a1a1a" stroke="#fff" stroke-width="0.55">
<text transform="translate(49.40,498.2) scale(1.06,1)" text-anchor="middle">0</text><text transform="translate(62.85,498.2) scale(1.06,1)" text-anchor="middle">4</text><text transform="translate(76.30,498.2) scale(1.06,1)" text-anchor="middle">:</text><text transform="translate(89.75,498.2) scale(1.06,1)" text-anchor="middle">0</text><text transform="translate(103.20,498.2) scale(1.06,1)" text-anchor="middle">0</text>
<text transform="translate(121.50,498.2) scale(1.06,1)" text-anchor="middle">0</text><text transform="translate(134.95,498.2) scale(1.06,1)" text-anchor="middle">6</text><text transform="translate(148.40,498.2) scale(1.06,1)" text-anchor="middle">:</text><text transform="translate(161.85,498.2) scale(1.06,1)" text-anchor="middle">0</text><text transform="translate(175.30,498.2) scale(1.06,1)" text-anchor="middle">0</text>
<text transform="translate(193.60,498.2) scale(1.06,1)" text-anchor="middle">0</text><text transform="translate(207.05,498.2) scale(1.06,1)" text-anchor="middle">8</text><text transform="translate(220.50,498.2) scale(1.06,1)" text-anchor="middle">:</text><text transform="translate(233.95,498.2) scale(1.06,1)" text-anchor="middle">0</text><text transform="translate(247.40,498.2) scale(1.06,1)" text-anchor="middle">0</text>
<text transform="translate(265.70,498.2) scale(1.06,1)" text-anchor="middle">1</text><text transform="translate(279.15,498.2) scale(1.06,1)" text-anchor="middle">0</text><text transform="translate(292.60,498.2) scale(1.06,1)" text-anchor="middle">:</text><text transform="translate(306.05,498.2) scale(1.06,1)" text-anchor="middle">0</text><text transform="translate(319.50,498.2) scale(1.06,1)" text-anchor="middle">0</text>
<text transform="translate(337.80,498.2) scale(1.06,1)" text-anchor="middle">1</text><text transform="translate(351.25,498.2) scale(1.06,1)" text-anchor="middle">2</text><text transform="translate(364.70,498.2) scale(1.06,1)" text-anchor="middle">:</text><text transform="translate(378.15,498.2) scale(1.06,1)" text-anchor="middle">0</text><text transform="translate(391.60,498.2) scale(1.06,1)" text-anchor="middle">0</text>
<text transform="translate(409.90,498.2) scale(1.06,1)" text-anchor="middle">1</text><text transform="translate(423.35,498.2) scale(1.06,1)" text-anchor="middle">4</text><text transform="translate(436.80,498.2) scale(1.06,1)" text-anchor="middle">:</text><text transform="translate(450.25,498.2) scale(1.06,1)" text-anchor="middle">0</text><text transform="translate(463.70,498.2) scale(1.06,1)" text-anchor="middle">0</text>
<text transform="translate(482.00,498.2) scale(1.06,1)" text-anchor="middle">1</text><text transform="translate(495.45,498.2) scale(1.06,1)" text-anchor="middle">6</text><text transform="translate(508.90,498.2) scale(1.06,1)" text-anchor="middle">:</text><text transform="translate(522.35,498.2) scale(1.06,1)" text-anchor="middle">0</text><text transform="translate(535.80,498.2) scale(1.06,1)" text-anchor="middle">0</text>
<text transform="translate(554.10,498.2) scale(1.06,1)" text-anchor="middle">1</text><text transform="translate(567.55,498.2) scale(1.06,1)" text-anchor="middle">8</text><text transform="translate(581.00,498.2) scale(1.06,1)" text-anchor="middle">:</text><text transform="translate(594.45,498.2) scale(1.06,1)" text-anchor="middle">0</text><text transform="translate(607.90,498.2) scale(1.06,1)" text-anchor="middle">0</text>
<text transform="translate(626.20,498.2) scale(1.06,1)" text-anchor="middle">2</text><text transform="translate(639.65,498.2) scale(1.06,1)" text-anchor="middle">0</text><text transform="translate(653.10,498.2) scale(1.06,1)" text-anchor="middle">:</text><text transform="translate(666.55,498.2) scale(1.06,1)" text-anchor="middle">0</text><text transform="translate(680.00,498.2) scale(1.06,1)" text-anchor="middle">0</text>
<text transform="translate(42.62,18.75) scale(1.06,1)" text-anchor="middle">4</text><text transform="translate(56.07,18.75) scale(1.06,1)" text-anchor="middle">0</text>
<text transform="translate(42.62,124.3) scale(1.06,1)" text-anchor="middle">3</text><text transform="translate(56.07,124.3) scale(1.06,1)" text-anchor="middle">0</text>
<text transform="translate(42.62,229.85) scale(1.06,1)" text-anchor="middle">2</text><text transform="translate(56.07,229.85) scale(1.06,1)" text-anchor="middle">0</text>
<text transform="translate(42.62,335.40000000000003) scale(1.06,1)" text-anchor="middle">1</text><text transform="translate(56.07,335.40000000000003) scale(1.06,1)" text-anchor="middle">0</text>
<text transform="translate(56.07,440.95000000000005) scale(1.06,1)" text-anchor="middle">0</text>
</g>
<g font-family="Liberation Serif, serif" font-size="33" fill="#000">
<text x="365" y="542.4" text-anchor="middle">Time(h)</text>
<text transform="translate(23.4,235.8) rotate(-90)" text-anchor="middle" textLength="118.6" lengthAdjust="spacingAndGlyphs">PV(KW)</text>
</g>
<rect x="146.4" y="20.2" width="414.0" height="25.4" fill="#fff" stroke="#111" stroke-width="1.3"/>
<g font-family="Liberation Serif, serif" font-size="17.5" fill="#000">
<line x1="148.2" x2="190.2" y1="32.8" y2="32.8" stroke="#5e5e5e" stroke-width="2.7"/>
<rect x="165.0" y="28.8" width="8.0" height="8.0" fill="#5e5e5e"/>
<text x="195.0" y="38.2" font-size="17.5">Actual</text>
<line x1="240.5" x2="282.5" y1="32.8" y2="32.8" stroke="#F14040" stroke-width="2.7"/>
<circle cx="261.2" cy="32.8" r="4.45" fill="#F14040"/>
<text x="287.0" y="38.2" font-size="17">#1</text>
<line x1="303.4" x2="346.6" y1="32.8" y2="32.8" stroke="#1A6FDF" stroke-width="2.7"/>
<path d="M320.0 35.8L330.2 35.8L325.1 26.9Z" fill="#1A6FDF"/>
<text x="350.0" y="38.2" font-size="17">#2</text>
<line x1="367" x2="409.2" y1="32.8" y2="32.8" stroke="#37AD6B" stroke-width="2.7"/>
<path d="M382.9 29.8L393.1 29.8L388.0 38.7Z" fill="#37AD6B"/>
<text x="413.2" y="38.2" font-size="17">#3</text>
<line x1="429.8" x2="473.3" y1="32.8" y2="32.8" stroke="#B177DE" stroke-width="2.7"/>
<path d="M446.2 32.8L451.5 27.3L456.8 32.8L451.5 38.2Z" fill="#B177DE"/>
<text x="477.0" y="38.2" font-size="17">#4</text>
<line x1="493.6" x2="536.1" y1="32.8" y2="32.8" stroke="#CC9900" stroke-width="2.7"/>
<path d="M517.6 27.7L517.6 37.9L508.7 32.8Z" fill="#CC9900"/>
<text x="540.0" y="38.2" font-size="17">#5</text>
</g>
</svg>
</body></html>
